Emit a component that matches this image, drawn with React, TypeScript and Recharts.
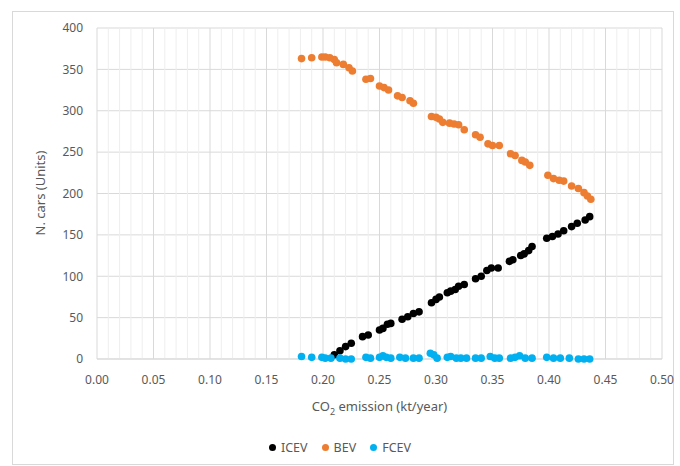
import { CartesianGrid, Label, ReferenceLine, Scatter, ScatterChart, XAxis, YAxis } from "recharts";

// CO2 emission (kt/year) vs number of cars per technology
const icevX = [0.21, 0.215, 0.22, 0.225, 0.235, 0.24, 0.25, 0.253, 0.257, 0.26, 0.27, 0.275, 0.28, 0.285, 0.296, 0.3, 0.303, 0.31, 0.313, 0.317, 0.32, 0.325, 0.335, 0.34, 0.345, 0.349, 0.355, 0.365, 0.368, 0.375, 0.378, 0.382, 0.385, 0.398, 0.403, 0.408, 0.413, 0.42, 0.425, 0.432, 0.436];
const icevY = [5, 10, 15, 19, 27, 29, 35, 37, 42, 43, 48, 51, 55, 57, 68, 72, 75, 80, 82, 84, 88, 90, 97, 100, 107, 110, 110, 118, 120, 125, 127, 131, 136, 146, 148, 151, 155, 160, 164, 168, 172];

const bevX = [0.181, 0.19, 0.199, 0.202, 0.206, 0.21, 0.212, 0.218, 0.223, 0.226, 0.238, 0.242, 0.25, 0.254, 0.258, 0.266, 0.27, 0.277, 0.28, 0.296, 0.3, 0.303, 0.306, 0.312, 0.316, 0.32, 0.325, 0.335, 0.339, 0.346, 0.35, 0.356, 0.366, 0.37, 0.376, 0.379, 0.383, 0.399, 0.404, 0.409, 0.413, 0.42, 0.426, 0.431, 0.434, 0.437];
const bevY = [363, 364, 365, 365, 364, 362, 358, 356, 352, 348, 338, 339, 330, 328, 325, 318, 316, 312, 309, 293, 292, 290, 286, 285, 284, 283, 277, 271, 268, 260, 258, 258, 248, 246, 240, 238, 234, 222, 218, 216, 215, 209, 206, 201, 197, 193];

const fcevX = [0.181, 0.19, 0.199, 0.202, 0.207, 0.215, 0.22, 0.225, 0.238, 0.242, 0.25, 0.253, 0.256, 0.26, 0.268, 0.273, 0.28, 0.285, 0.295, 0.298, 0.301, 0.31, 0.313, 0.318, 0.322, 0.327, 0.335, 0.34, 0.348, 0.352, 0.356, 0.366, 0.37, 0.374, 0.379, 0.385, 0.398, 0.404, 0.41, 0.418, 0.426, 0.431, 0.436];
const fcevY = [3, 2, 2, 1, 1, 1, 0, 0, 2, 1, 2, 4, 2, 1, 2, 1, 1, 1, 7, 5, 1, 2, 3, 1, 1, 1, 1, 1, 3, 1, 1, 1, 2, 4, 1, 1, 2, 1, 1, 1, 0, 0, 0];

const xTicks = [0, 0.05, 0.1, 0.15, 0.2, 0.25, 0.3, 0.35, 0.4, 0.45, 0.5];
const yTicks = [0, 50, 100, 150, 200, 250, 300, 350, 400];
const minorX = Array.from({ length: 50 }, (_, i) => i / 100).filter((v, i) => i % 5 !== 0);

const series = [
  { name: "ICEV", color: "#000000", xs: icevX, ys: icevY },
  { name: "BEV", color: "#ED7D31", xs: bevX, ys: bevY },
  { name: "FCEV", color: "#00B0F0", xs: fcevX, ys: fcevY },
];

const FONT = "'Noto Sans', 'Open Sans', sans-serif";
const TEXT = "#595959";

const Dot = (props: any) => <circle cx={props.cx} cy={props.cy} r={3.8} fill={props.fill} />;

export default function App() {
  return (
    <div style={{ position: "absolute", left: 0, top: 0, width: 680, height: 466, background: "#fff", fontFamily: FONT }}>
      <div style={{ position: "absolute", left: 12, top: 11, width: 660, height: 452, border: "1px solid #d9d9d9" }} />
      <ScatterChart width={680} height={466} margin={{ top: 28, right: 18, bottom: 0, left: 0 }}>
        {minorX.map((v) => (
          <ReferenceLine key={v} x={v} stroke="#eeeeee" strokeWidth={1} ifOverflow="hidden" />
        ))}
        <CartesianGrid stroke="#d9d9d9" />
        <XAxis
          type="number"
          dataKey="x"
          domain={[0, 0.5]}
          ticks={xTicks}
          tickFormatter={(v: number) => v.toFixed(2)}
          height={107}
          axisLine={{ stroke: "#d9d9d9" }}
          tickLine={false}
          tickMargin={10}
          tick={{ fill: TEXT, fontSize: 12, fontFamily: FONT }}
        >
          <Label
            content={({ viewBox }: any) => (
              <text x={viewBox.x + viewBox.width / 2} y={411} textAnchor="middle" fill={TEXT} fontSize={13} fontFamily={FONT}>
                CO<tspan dy={4} fontSize={9}>2</tspan>
                <tspan dy={-4}> emission (kt/year)</tspan>
              </text>
            )}
          />
        </XAxis>
        <YAxis
          type="number"
          dataKey="y"
          domain={[0, 400]}
          ticks={yTicks}
          width={97}
          axisLine={false}
          tickLine={false}
          tickMargin={8}
          tick={{ fill: TEXT, fontSize: 12, fontFamily: FONT }}
        >
          <Label
            content={() => (
              <text x={45} y={193} transform="rotate(-90 45 193)" textAnchor="middle" fill={TEXT} fontSize={13} fontFamily={FONT}>
                N. cars (Units)
              </text>
            )}
          />
        </YAxis>
        {series.map((s) => (
          <Scatter
            key={s.name}
            name={s.name}
            data={s.xs.map((x, i) => ({ x, y: s.ys[i] }))}
            fill={s.color}
            shape={Dot}
            isAnimationActive={false}
          />
        ))}
      </ScatterChart>
      <div
        style={{
          position: "absolute",
          left: 0,
          top: 439,
          width: 680,
          display: "flex",
          justifyContent: "center",
          gap: 14,
          fontSize: 12.5,
          color: TEXT,
        }}
      >
        {series.map((s) => (
          <div key={s.name} style={{ display: "flex", alignItems: "center", gap: 5 }}>
            <span style={{ width: 7, height: 7, borderRadius: "50%", background: s.color, display: "inline-block" }} />
            {s.name}
          </div>
        ))}
      </div>
    </div>
  );
}
